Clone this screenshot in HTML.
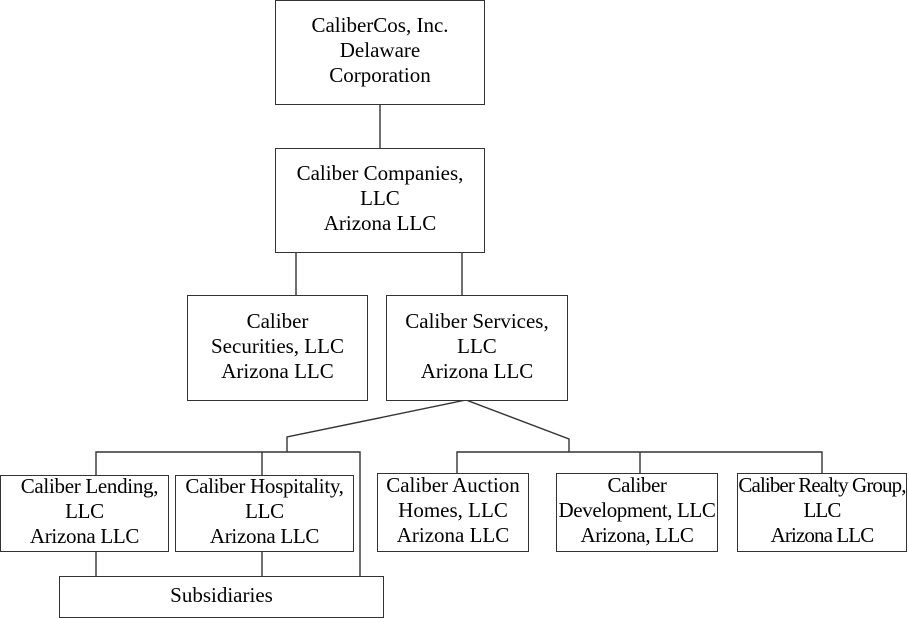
<!DOCTYPE html>
<html><head><style>
body{margin:0;width:909px;height:618px;background:#fff;position:relative;overflow:hidden;font-family:"Liberation Serif",serif;font-size:21px;color:#000}
.b{position:absolute;border:1.5px solid #333;box-sizing:border-box;display:flex;align-items:center;justify-content:center;text-align:center;line-height:25px;background:#fff;white-space:nowrap;padding-bottom:4px}
svg{position:absolute;left:0;top:0}
</style></head><body>
<svg width="909" height="618"><g stroke="#333" stroke-width="1.4" fill="none">
<line x1="380" y1="104" x2="380" y2="148"/>
<line x1="296" y1="252" x2="296" y2="295"/>
<line x1="462" y1="252" x2="462" y2="295"/>
<polyline points="287,452 287,437 466,400 569,439 569,452"/>
<polyline points="96,475 96,452 360,452 360,576"/>
<line x1="262" y1="452" x2="262" y2="475"/>
<line x1="96" y1="551" x2="96" y2="576"/>
<line x1="262" y1="551" x2="262" y2="576"/>
<polyline points="457,473 457,452 822,452 822,473"/>
<line x1="640" y1="452" x2="640" y2="473"/>
</g></svg>
<div class="b" style="left:275px;top:0;width:210px;height:105px">CaliberCos, Inc.<br>Delaware<br>Corporation</div>
<div class="b" style="left:275px;top:148px;width:210px;height:105px">Caliber Companies,<br>LLC<br>Arizona LLC</div>
<div class="b" style="left:187px;top:295px;width:181px;height:106px">Caliber<br>Securities, LLC<br>Arizona LLC</div>
<div class="b" style="left:386px;top:295px;width:182px;height:106px">Caliber Services,<br>LLC<br>Arizona LLC</div>
<div class="b" style="left:0;top:475px;width:169px;height:77px;letter-spacing:-0.3px">&nbsp;&nbsp;Caliber Lending,<br>LLC<br>Arizona LLC</div>
<div class="b" style="left:175px;top:475px;width:179px;height:77px;letter-spacing:-0.3px">Caliber Hospitality,<br>LLC<br>Arizona LLC</div>
<div class="b" style="left:377px;top:473px;width:152px;height:79px">Caliber Auction<br>Homes, LLC<br>Arizona LLC</div>
<div class="b" style="left:556px;top:473px;width:162px;height:79px;letter-spacing:-0.4px">Caliber<br>Development, LLC<br>Arizona, LLC</div>
<div class="b" style="left:737px;top:473px;width:170px;height:79px;letter-spacing:-0.9px">Caliber Realty Group,<br>LLC<br>Arizona LLC</div>
<div class="b" style="left:59px;top:576px;width:325px;height:42px">Subsidiaries</div>
</body></html>
